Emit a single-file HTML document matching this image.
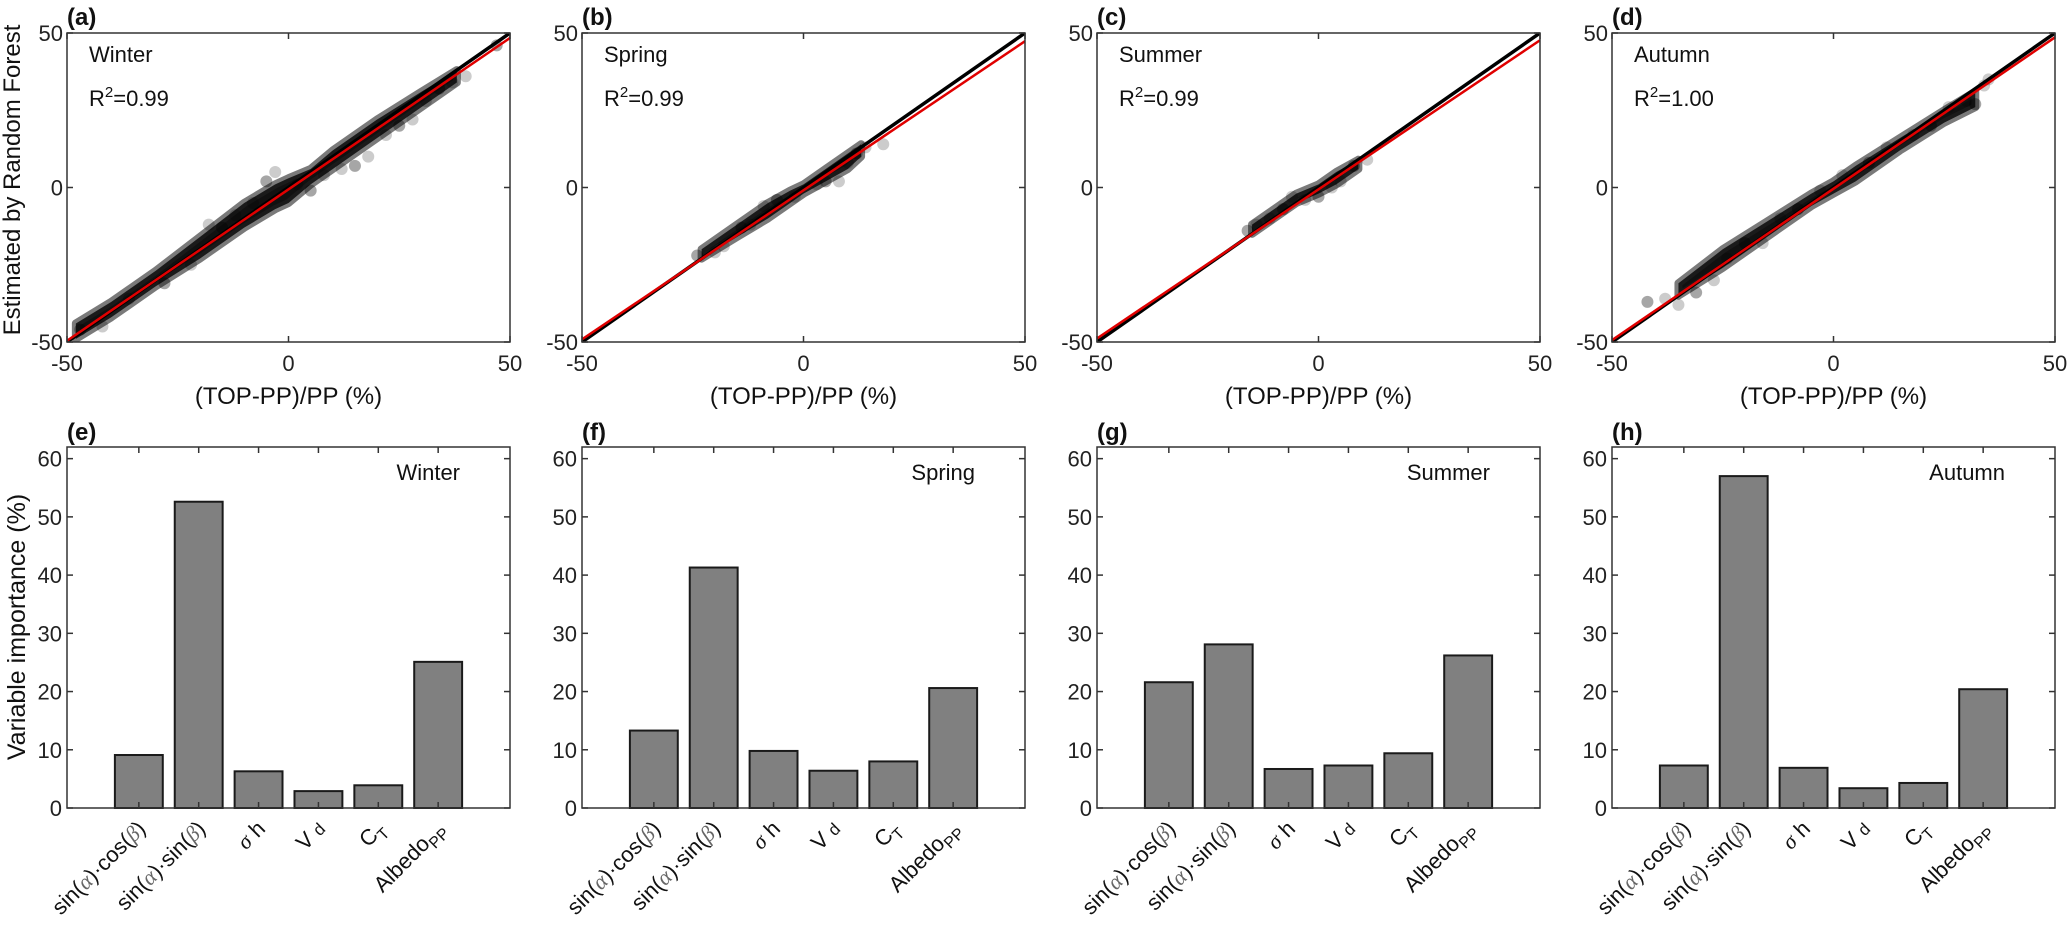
<!DOCTYPE html>
<html><head><meta charset="utf-8"><title>Random forest: estimated vs observed and variable importance by season</title>
<style>
html,body{margin:0;padding:0;background:#fff;}
svg{display:block;font-family:"Liberation Sans",Arial,sans-serif;}
</style></head>
<body>
<svg id="fig" width="2067" height="925" viewBox="0 0 2067 925" xmlns="http://www.w3.org/2000/svg"></svg>
<script>
// ---- data ----
const seasons = ["Winter","Spring","Summer","Autumn"];
const topLetters = ["(a)","(b)","(c)","(d)"];
const botLetters = ["(e)","(f)","(g)","(h)"];
const r2Labels = ["0.99","0.99","0.99","1.00"];
const fitSlope = [0.98,0.965,0.965,0.98];
const fitIntercept = [-0.6,-0.9,-0.6,-0.4];
// dense core envelopes (x, upper y, lower y)
const coreX = [
  [-48,-40,-30,-20,-10,-3,0,5,10,20,30,38],
  [-23,-15,-8,-3,0,5,10,13],
  [-15,-10,-5,0,4,9],
  [-35,-25,-15,-5,0,5,15,25,32]];
const coreHi = [
  [-44,-37,-27,-16,-5,1,3,6,12,22,31,38],
  [-20,-12,-5,-1,1,6,11,14],
  [-12,-7,-2,1,5,9],
  [-31,-20,-11,-2,2,7,16,25,31]];
const coreLo = [
  [-49,-42,-32,-23,-13,-7,-5,1,6,16,26,34],
  [-23,-16,-10,-5,-2,2,6,10],
  [-15,-10,-5,-2,1,6],
  [-35,-26,-16,-6,-2,2,12,21,26]];
// outlier points [x,y]
const outX = [
  [-47,-42,-36,-28,-22,-18,-15,-12,-8,-5,-3,2,5,8,12,15,18,22,25,28,31,34,37,40,47],
  [-24,-20,-18,-14,-12,-9,-6,-2,3,5,8,10,12,14,18],
  [-16,-14,-11,-8,-6,-3,0,3,5,8,11],
  [-42,-38,-35,-31,-27,-24,-20,-16,-12,-8,-3,2,8,12,18,22,26,30,32,34,35]];
const outY = [
  [-46,-45,-36,-31,-25,-12,-13,-9,-5,2,5,1,-1,4,6,7,10,17,20,22,28,32,34,36,46],
  [-22,-21,-19,-13,-12,-6,-4,-3,1,2,2,8,11,13,14],
  [-14,-12,-10,-7,-3,-4,-3,0,2,7,9],
  [-37,-36,-38,-34,-30,-23,-18,-18,-10,-7,-1,4,8,13,17,20,26,28,27,33,35]];
const catLabels = ["sin(α)·cos(β)","sin(α)·sin(β)","σ h","V d","CT","AlbedoPP"];
const impWinter = [9.1,52.6,6.3,2.9,3.9,25.1];
const impSpring = [13.3,41.3,9.8,6.4,8.0,20.6];
const impSummer = [21.6,28.1,6.7,7.3,9.4,26.2];
const impAutumn = [7.3,57.0,6.9,3.4,4.3,20.4];
const importance = [impWinter,impSpring,impSummer,impAutumn];
const scatTicks = [-50,0,50];
const barTicks = [0,10,20,30,40,50,60];

// ---- layout ----
const NS="http://www.w3.org/2000/svg";
const svg=document.getElementById('fig');
function el(tag,attrs,parent){const e=document.createElementNS(NS,tag);for(const k in attrs)e.setAttribute(k,attrs[k]);(parent||svg).appendChild(e);return e;}
const panelLeft=[67,582,1097,1612], PW=443;
const T0=33,T1=342, B0=447,B1=808;
function sx(i,v){return panelLeft[i]+(v+50)/100*PW;}
function sy(v){return T1-(v+50)/100*(T1-T0);}
function bx(i,c){return panelLeft[i]+(c+0.2)/7.4*PW;}
function by(v){return B1-v/62*(B1-B0);}

for(let i=0;i<4;i++){
  const L=panelLeft[i],R=L+PW;
  // ---------- scatter panel ----------
  const g=el('g',{});
  
  
  const clip=el('clipPath',{id:'c'+i},g);el('rect',{x:L,y:T0,width:PW,height:T1-T0},clip);
  const pg=el('g',{'clip-path':'url(#c'+i+')'},g);
  // core band
  let pts=[];
  for(let k=0;k<coreX[i].length;k++)pts.push(sx(i,coreX[i][k])+','+sy(coreHi[i][k]));
  for(let k=coreX[i].length-1;k>=0;k--)pts.push(sx(i,coreX[i][k])+','+sy(coreLo[i][k]));
  const band=el('polygon',{points:pts.join(' '),fill:'#111','stroke':'#222','stroke-width':8,'stroke-linejoin':'round','stroke-opacity':0.6},pg);
  
  
  for(let k=0;k<outX[i].length;k++){
    const c=el('circle',{cx:sx(i,outX[i][k]),cy:sy(outY[i][k]),r:6,fill:'#000','fill-opacity':k%3==0?0.35:0.2},pg);
    
    
  }
  const l1=el('line',{x1:sx(i,-50),y1:sy(-50),x2:sx(i,50),y2:sy(50),stroke:'#000','stroke-width':3.5},pg);
  
  
  const l2=el('line',{x1:sx(i,-50),y1:sy(fitSlope[i]*-50+fitIntercept[i]),x2:sx(i,50),y2:sy(fitSlope[i]*50+fitIntercept[i]),stroke:'#e00000','stroke-width':2.5},pg);
  
  
  el('rect',{x:L,y:T0,width:PW,height:T1-T0,fill:'none',stroke:'#333','stroke-width':1.5},g);
  scatTicks.forEach(t=>{
    const x=sx(i,t),y=sy(t);
    el('line',{x1:x,y1:T1,x2:x,y2:T1-6,stroke:'#333','stroke-width':1.5},g);
    el('line',{x1:x,y1:T0,x2:x,y2:T0+6,stroke:'#333','stroke-width':1.5},g);
    el('line',{x1:L,y1:y,x2:L+6,y2:y,stroke:'#333','stroke-width':1.5},g);
    el('line',{x1:R,y1:y,x2:R-6,y2:y,stroke:'#333','stroke-width':1.5},g);
    const xt=el('text',{x:x,y:T1+29,'font-size':22,'text-anchor':'middle',fill:'#222'},g);xt.textContent=t;
    
    
    const yt=el('text',{x:L-4,y:y+8,'font-size':22,'text-anchor':'end',fill:'#222'},g);yt.textContent=t;
    
    
  });
  const lt=el('text',{x:L,y:25,'font-size':24,'font-weight':'bold',fill:'#111'},g);lt.textContent=topLetters[i];
  
  
  const st=el('text',{x:L+22,y:62,'font-size':22,fill:'#111'},g);st.textContent=seasons[i];
  
  
  const rt=el('text',{x:L+22,y:106,'font-size':22,fill:'#111'},g);
  
  
  rt.innerHTML='R<tspan dy="-9" font-size="15">2</tspan><tspan dy="9">='+r2Labels[i]+'</tspan>';
  const xa=el('text',{x:L+PW/2,y:404,'font-size':24,'text-anchor':'middle',fill:'#111'},g);xa.textContent='(TOP-PP)/PP (%)';
  
  

  // ---------- bar panel ----------
  const h=el('g',{});
  
  
  importance[i].forEach((v,c)=>{
    const cx=bx(i,c+1),w=0.8/7.4*PW;
    const b=el('rect',{x:cx-w/2,y:by(v),width:w,height:by(0)-by(v),fill:'#808080',stroke:'#1a1a1a','stroke-width':2},h);
    
    
  });
  el('rect',{x:L,y:B0,width:PW,height:B1-B0,fill:'none',stroke:'#333','stroke-width':1.5},h);
  for(let c=1;c<=6;c++){
    const x=bx(i,c);
    el('line',{x1:x,y1:B1,x2:x,y2:B1-6,stroke:'#333','stroke-width':1.5},h);
    el('line',{x1:x,y1:B0,x2:x,y2:B0+6,stroke:'#333','stroke-width':1.5},h);
  }
  barTicks.forEach(t=>{
    const y=by(t);
    el('line',{x1:L,y1:y,x2:L+6,y2:y,stroke:'#333','stroke-width':1.5},h);
    el('line',{x1:R,y1:y,x2:R-6,y2:y,stroke:'#333','stroke-width':1.5},h);
    const yt=el('text',{x:L-5,y:y+8,'font-size':22,'text-anchor':'end',fill:'#222'},h);yt.textContent=t;
    
    
  });
  // category labels
  const mk=[
    'sin(<tspan font-family="Liberation Serif,serif" font-style="italic" fill="#666">α</tspan>)·cos(<tspan font-family="Liberation Serif,serif" font-style="italic" fill="#666">β</tspan>)',
    'sin(<tspan font-family="Liberation Serif,serif" font-style="italic" fill="#666">α</tspan>)·sin(<tspan font-family="Liberation Serif,serif" font-style="italic" fill="#666">β</tspan>)',
    '<tspan font-family="Liberation Serif,serif" font-style="italic">σ</tspan> h',
    'V <tspan font-size="17">d</tspan>',
    'C<tspan dy="6" font-size="16">T</tspan>',
    'Albedo<tspan dy="6" font-size="16">PP</tspan>'];
  for(let c=0;c<6;c++){
    const x=bx(i,c+1)+8,y=B1+22;
    const t=el('text',{x:x,y:y,'font-size':22,'text-anchor':'end',fill:'#111',transform:'rotate(-45 '+x+' '+y+')'},h);
    t.innerHTML=mk[c];
    
    
  }
  const bl=el('text',{x:L,y:440,'font-size':24,'font-weight':'bold',fill:'#111'},h);bl.textContent=botLetters[i];
  
  
  const bs=el('text',{x:R-50,y:480,'font-size':22,'text-anchor':'end',fill:'#111'},h);bs.textContent=seasons[i];
  
  
}
const ya=el('text',{x:0,y:0,'font-size':24,'text-anchor':'middle',fill:'#111',transform:'translate(20,180) rotate(-90)'});
ya.textContent='Estimated by Random Forest';


const yb=el('text',{x:0,y:0,'font-size':25,'text-anchor':'middle',fill:'#111',transform:'translate(25,627) rotate(-90)'});
yb.textContent='Variable importance (%)';


</script>
</body></html>
